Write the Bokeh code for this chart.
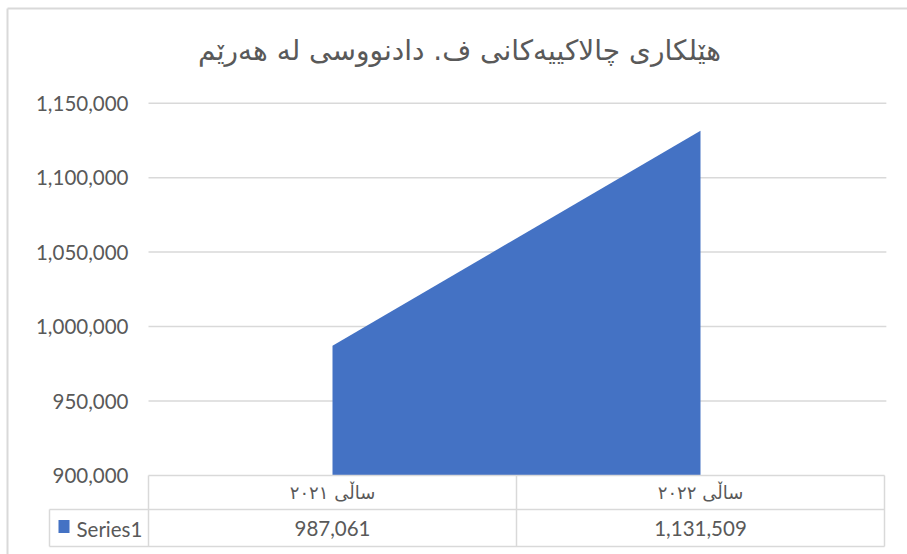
from bokeh.plotting import figure
from bokeh.models import Range1d, ColumnDataSource
from bokeh.core.properties import value
from bokeh.embed import file_html
from bokeh.resources import INLINE

# ---- data ----
title_text = "هێلکاری چالاکییەکانی ف. دادنووسی لە هەرێم"
categories = ["ساڵی ٢٠٢١", "ساڵی ٢٠٢٢"]
series_name = "Series1"
values = [987061, 1131509]
y_ticks = [900000, 950000, 1000000, 1050000, 1100000, 1150000]

# ---- styling constants ----
BLUE = "#4472C4"
GRID = "#d9d9d9"
TXT = "#595959"
NUM_FONT = value("Lato")
AR_FONT = value("DejaVu Sans")

W, H = 907, 554
PX_PER_VAL = 372.3 / 250000.0
p = figure(width=W, height=H, output_backend="svg", toolbar_location=None,
           x_range=Range1d(-148 / 368, 2 + 23 / 368),
           y_range=Range1d(900000 - 79 / PX_PER_VAL, 900000 + 475 / PX_PER_VAL),
           x_axis_type=None, y_axis_type=None, min_border=0)
p.grid.visible = False
p.outline_line_color = None
p.background_fill_color = "white"
p.border_fill_color = "white"
p.extra_x_ranges = {"px": Range1d(0, W)}
p.extra_y_ranges = {"px": Range1d(H, 0)}

xc = [i + 0.5 for i in range(len(categories))]
n = len(categories)

# chart border (left + top)
p.segment(x0=[7, 7], x1=[7, W], y0=[8, 8], y1=[H, 8],
          x_range_name="px", y_range_name="px", line_color=GRID, line_width=2)

# gridlines (value axis)
grid_src = ColumnDataSource(dict(y=y_ticks[1:]))
p.segment(x0=0, x1=2.005, y0="y", y1="y", source=grid_src,
          line_color=GRID, line_width=1.5)

# area
p.varea(x=xc, y1=[y_ticks[0]] * n, y2=values, fill_color=BLUE)

# y tick labels
p.text(x=[128] * len(y_ticks), y=y_ticks, text=[f"{v:,}" for v in y_ticks],
       x_range_name="px", text_align="right", text_baseline="middle",
       text_font=NUM_FONT, text_font_size="20.5px", text_color=TXT)

# data table lines
left_col = -99 / 368
p.segment(x0=[0, left_col, left_col], x1=[n, n, n], y0=[475, 509, 546], y1=[475, 509, 546],
          y_range_name="px", line_color=GRID, line_width=1.5)
p.segment(x0=[left_col] + list(range(n + 1)), x1=[left_col] + list(range(n + 1)),
          y0=[509] + [475] * (n + 1), y1=[546] * (n + 2),
          y_range_name="px", line_color=GRID, line_width=1.5)

# table texts
p.text(x=xc, y=[492] * n, text=categories, y_range_name="px",
       text_align="center", text_baseline="middle",
       text_font=AR_FONT, text_font_size="18px", text_color=TXT)
p.text(x=xc, y=[528] * n, text=[f"{v:,}" for v in values], y_range_name="px",
       text_align="center", text_baseline="middle",
       text_font=NUM_FONT, text_font_size="20.5px", text_color=TXT)
p.text(x=[76], y=[528], text=[series_name], x_range_name="px", y_range_name="px",
       text_align="left", text_baseline="middle",
       text_font=NUM_FONT, text_font_size="20.5px", text_color=TXT)
p.rect(x=[63.5], y=[526], width=11, height=13, x_range_name="px", y_range_name="px",
       fill_color=BLUE, line_color=None)

# title
p.text(x=[459], y=[50], text=[title_text], x_range_name="px", y_range_name="px",
       text_align="center", text_baseline="middle",
       text_font=AR_FONT, text_font_size="28px", text_color=TXT)

open("out.html", "w").write(file_html(p, INLINE))
